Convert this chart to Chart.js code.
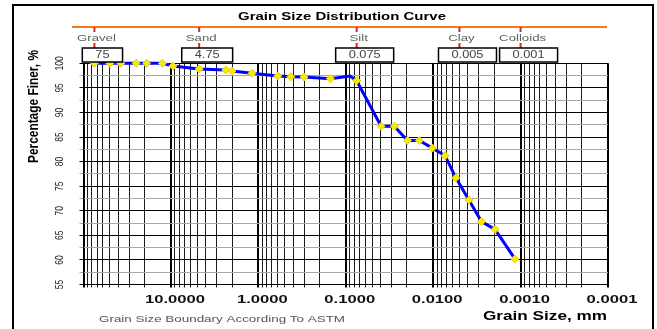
<!DOCTYPE html>
<html>
<head>
<meta charset="utf-8">
<script src="https://cdn.jsdelivr.net/npm/chart.js@4.4.1/dist/chart.umd.min.js"></script>
<style>
  html, body { margin: 0; padding: 0; background: #fff; }
  #wrap { width: 657px; height: 329px; position: relative; }
</style>
</head>
<body>
<div id="wrap"><canvas id="gsd"></canvas></div>
<script>
// grain size (mm) and percent finer
const grainSize = [75, 50, 37.5, 25, 19, 12.5, 9.5, 4.75, 2.36, 2.0, 1.18, 0.6, 0.425, 0.3, 0.15, 0.089, 0.075,
                   0.0394, 0.0278, 0.0197, 0.0144, 0.0102, 0.0073, 0.0055, 0.0039, 0.0028, 0.00196, 0.00116];
const percentFiner = [100, 100, 100, 100, 100, 100, 99.45, 98.84, 98.64, 98.43, 97.96, 97.41, 97.27, 97.2, 96.86, 97.41, 96.45,
                      87.2, 87.2, 84.3, 84.3, 82.75, 81.2, 76.7, 72.2, 67.8, 66.2, 60.2];
const hiddenMarker = [15]; // the vertex near 0.09 mm has no marker

// ASTM boundaries shown in the top band
const boundaryNames = ['Gravel', 'Sand', 'Silt', 'Clay', 'Colloids'];
const boundarySizes = [75, 4.75, 0.075, 0.005, 0.001];
const boundaryLabels = ['75', '4.75', '0.075', '0.005', '0.001'];

// axis tick labels
const xDecades = [10, 1, 0.1, 0.01, 0.001, 0.0001];
const xTickLabels = ['10.0000', '1.0000', '0.1000', '0.0100', '0.0010', '0.0001'];
const yTicks = [100, 95, 90, 85, 80, 75, 70, 65, 60, 55];

const FONT = '"Liberation Sans", Arial, sans-serif';

function stretchFor(ctx, font, sample, width) {
  ctx.save();
  ctx.font = font;
  const w = ctx.measureText(sample).width;
  ctx.restore();
  return width / w;
}

function drawText(ctx, text, x, y, font, color, sx, align) {
  ctx.save();
  ctx.font = font;
  ctx.fillStyle = color;
  ctx.textBaseline = 'middle';
  ctx.textAlign = align || 'center';
  ctx.translate(x, y);
  ctx.scale(sx, 1);
  ctx.fillText(text, 0, 0);
  ctx.restore();
}

const isDecade = v => Math.abs(Math.log10(v) - Math.round(Math.log10(v))) < 1e-6;

// texts, top boundary band and frame
const decorPlugin = {
  id: 'decor',
  afterDraw(chart) {
    const ctx = chart.ctx;
    const xs = chart.scales.x;
    const ys = chart.scales.y;

    // title
    const tFont = 'bold 11px ' + FONT;
    drawText(ctx, 'Grain Size Distribution Curve', 342, 16.5, tFont, '#000',
      stretchFor(ctx, tFont, 'Grain Size Distribution Curve', 208));

    // orange band line
    ctx.save();
    ctx.strokeStyle = '#f27a22';
    ctx.lineWidth = 2;
    ctx.beginPath();
    ctx.moveTo(72, 27);
    ctx.lineTo(607, 27);
    ctx.stroke();
    ctx.restore();

    const nFont = '9px ' + FONT;
    const nStretch = stretchFor(ctx, nFont, 'Colloids', 47);
    const bFont = '10px ' + FONT;
    const bStretch = stretchFor(ctx, bFont, '0.075', 32);

    boundarySizes.forEach((s, i) => {
      const tx = xs.getPixelForValue(s);
      ctx.save();
      ctx.strokeStyle = '#e3241c';
      ctx.lineWidth = 2;
      ctx.beginPath();
      ctx.moveTo(tx, 27); ctx.lineTo(tx, 32);
      ctx.moveTo(tx, 43); ctx.lineTo(tx, 48);
      ctx.stroke();
      ctx.restore();

      drawText(ctx, boundaryNames[i], tx + 2, 39, nFont, '#606060', nStretch);

      ctx.save();
      ctx.font = bFont;
      const bw = ctx.measureText(boundaryLabels[i]).width * bStretch + 26;
      const cx = tx + 8;
      ctx.fillStyle = '#fff';
      ctx.fillRect(cx - bw / 2, 48, bw, 14);
      ctx.strokeStyle = '#000';
      ctx.lineWidth = 1.5;
      ctx.strokeRect(cx - bw / 2, 48, bw, 14);
      ctx.restore();
      drawText(ctx, boundaryLabels[i], cx, 55.5, bFont, '#444', bStretch);
    });

    // x tick labels
    const xFont = 'bold 10px ' + FONT;
    const xStretch = stretchFor(ctx, xFont, '10.0000', 60);
    xDecades.forEach((v, i) => {
      drawText(ctx, xTickLabels[i], xs.getPixelForValue(v) + 4, 300, xFont, '#111', xStretch);
    });

    // y tick labels (rotated)
    ctx.save();
    ctx.font = '8.5px ' + FONT;
    ctx.fillStyle = '#222';
    ctx.textAlign = 'center';
    ctx.textBaseline = 'middle';
    yTicks.forEach(v => {
      ctx.save();
      ctx.translate(60, ys.getPixelForValue(v));
      ctx.rotate(-Math.PI / 2);
      ctx.scale(1, 1.35);
      ctx.fillText(String(v), 0, 0);
      ctx.restore();
    });
    ctx.restore();

    // y axis title
    const yFont = 'bold 11px ' + FONT;
    const yLen = stretchFor(ctx, yFont, 'Percentage Finer, %', 113);
    ctx.save();
    ctx.font = yFont;
    ctx.fillStyle = '#000';
    ctx.textAlign = 'center';
    ctx.textBaseline = 'middle';
    ctx.translate(34, 106.5);
    ctx.rotate(-Math.PI / 2);
    ctx.scale(yLen, 1.25);
    ctx.fillText('Percentage Finer, %', 0, 0);
    ctx.restore();

    // bottom texts
    const cFont = '9.5px ' + FONT;
    drawText(ctx, 'Grain Size Boundary According To ASTM', 222, 319, cFont, '#555',
      stretchFor(ctx, cFont, 'Grain Size Boundary According To ASTM', 246));
    const gFont = 'bold 12px ' + FONT;
    drawText(ctx, 'Grain Size, mm', 545, 317, gFont, '#000',
      stretchFor(ctx, gFont, 'Grain Size, mm', 124));

    // frame
    ctx.save();
    ctx.strokeStyle = '#000';
    ctx.lineWidth = 2;
    ctx.strokeRect(13, 5, 640, 340);
    ctx.restore();
  }
};

const points = grainSize.map((s, i) => ({ x: s, y: percentFiner[i] }));

const ctx = document.getElementById('gsd').getContext('2d');
const chart = new Chart(ctx, {
  type: 'line',
  data: {
    datasets: [{
      data: points,
      borderColor: '#0000ff',
      borderWidth: 3,
      pointStyle: 'rectRot',
      pointRadius: c => hiddenMarker.includes(c.dataIndex) ? 0 : 4,
      pointBackgroundColor: '#f8ea00',
      pointBorderColor: '#e8d200',
      pointBorderWidth: 1,
      tension: 0,
      clip: false
    }]
  },
  options: {
    responsive: true,
    maintainAspectRatio: false,
    animation: false,
    layout: { padding: { top: 63.3, left: 13, right: 49, bottom: 0 } },
    plugins: {
      legend: { display: false },
      title: { display: false },
      tooltip: { enabled: false }
    },
    scales: {
      x: {
        type: 'logarithmic',
        reverse: true,
        min: 0.0001,
        max: 100,
        afterBuildTicks(scale) {
          const t = [];
          for (let e = -4; e <= 1; e++) {
            for (let m = 1; m <= 9; m++) t.push({ value: Number((m * Math.pow(10, e)).toPrecision(3)) });
          }
          t.push({ value: 100 });
          scale.ticks = t;
        },
        afterFit(scale) { scale.height = 44.5; },
        ticks: { display: false },
        grid: {
          color: c => isDecade(c.tick.value) ? '#000' : '#1e1e1e',
          lineWidth: c => isDecade(c.tick.value) ? 2 : 1,
          tickLength: 3
        },
        border: { color: '#000', width: 1 }
      },
      y: {
        min: 55,
        max: 100,
        afterFit(scale) { scale.width = 70.5; },
        ticks: { display: false, stepSize: 2.5 },
        grid: {
          color: c => c.tick.value % 5 === 0 ? '#000' : '#a8a8a8',
          lineWidth: 1,
          tickLength: 4
        },
        border: { color: '#000', width: 1 }
      }
    }
  },
  plugins: [decorPlugin]
});
</script>
</body>
</html>
